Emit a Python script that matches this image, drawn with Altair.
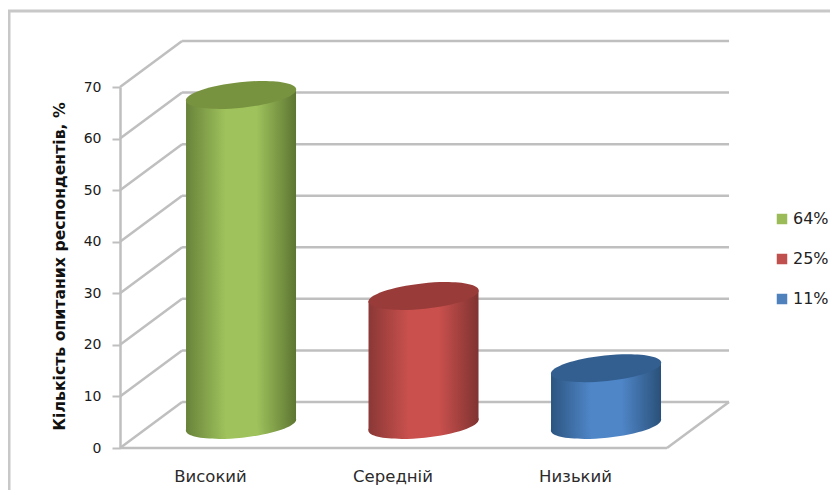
import altair as alt
import pandas as pd

categories = ["Високий", "Середній", "Низький"]
values = [64, 25, 11]
legend_labels = ["64%", "25%", "11%"]
edge_left = ["#68833a", "#8a3836", "#2c5580"]
centre = ["#9fc25c", "#c9504d", "#4f86c8"]
edge_right = ["#5d7632", "#7f3331", "#2a5079"]
top_colors = ["#78933f", "#983b39", "#335f90"]
legend_colors = ["#9bbb59", "#c0504d", "#4f81bd"]
grid_values = [0, 10, 20, 30, 40, 50, 60, 70]

GRAY = "#bfbfbf"
W, H = 822, 482
DX, DY = 0.34, 8.92       # depth of the 3D box in axis units
HALF = 0.3014             # half cylinder width in x units
TILT = 1.0                # vertical tilt of the cylinder ends, axis units
AX_L, AX_R = -0.493, 2.504
ELLIPSE = "M-1,0A1,0.23,0,1,1,1,0A1,0.23,0,1,1,-1,0Z"

xs = alt.Scale(domain=[0, 2], range=[202, 567])
ys = alt.Scale(domain=[0, 70], range=[440, 79])

x_axis = alt.Axis(
    values=[0, 1, 2], title=None, grid=False, domain=False, ticks=False, labelFlush=False,
    labelExpr="['" + "','".join(categories) + "'][datum.value]",
    labelFont="DejaVu Sans", labelFontSize=16.5, labelColor="#2b2b2b",
    labelPadding=0, offset=-22)
y_axis = alt.Axis(
    values=grid_values, title="Кількість опитаних респондентів, %", grid=False,
    domainColor=GRAY, domainWidth=2.5, tickColor=GRAY, tickWidth=2, tickSize=8,
    labelFont="DejaVu Sans", labelFontSize=14, labelColor="#1a1a1a", labelPadding=11,
    titleFont="DejaVu Sans", titleFontSize=15.7, titleFontWeight="bold", titleColor="#111111",
    titleAnchor="middle", titleY=258, titleX=-53, offset=-112)


def X(f="x"):
    return alt.X(f"{f}:Q", scale=xs, axis=x_axis)


def Y(f="y"):
    return alt.Y(f"{f}:Q", scale=ys, axis=y_axis)


# back wall lines and side wall diagonals
back = pd.DataFrame({"x": AX_L + DX, "x2": AX_R + DX, "y": [v + DY for v in grid_values]})
back_rules = alt.Chart(back).mark_rule(color=GRAY, strokeWidth=2.5).encode(x=X(), x2="x2:Q", y=Y())

diag = pd.DataFrame({"x": AX_L, "x2": AX_L + DX, "y": grid_values, "y2": [v + DY for v in grid_values]})
diag_rules = alt.Chart(diag).mark_rule(color=GRAY, strokeWidth=2.5).encode(x=X(), x2="x2:Q", y=Y(), y2="y2:Q")

floor = pd.DataFrame({"x": [AX_L], "x2": [AX_R], "y": [0]})
floor_rule = alt.Chart(floor).mark_rule(color=GRAY, strokeWidth=2.5).encode(x=X(), x2="x2:Q", y=Y())
floor_side = pd.DataFrame({"x": [AX_R], "x2": [AX_R + DX], "y": [0], "y2": [DY]})
floor_side_rule = alt.Chart(floor_side).mark_rule(color=GRAY, strokeWidth=2.5).encode(x=X(), x2="x2:Q", y=Y(), y2="y2:Q")

# chart frame (top and left edges)
frame_l = alt.Chart().mark_rule(color="#c8c8c8", strokeWidth=3).encode(
    x=alt.value(1), y=alt.value(3), y2=alt.value(H))
frame_t = alt.Chart().mark_rule(color="#c8c8c8", strokeWidth=3).encode(
    x=alt.value(0), x2=alt.value(W), y=alt.value(3))

layers = [back_rules, diag_rules, floor_rule, floor_side_rule, frame_l, frame_t]

# cylinders
for i, v in enumerate(values):
    grad = alt.Gradient(
        gradient="linear", x1=0, x2=1, y1=0, y2=0,
        stops=[
            alt.GradientStop(offset=0, color=edge_left[i]),
            alt.GradientStop(offset=0.36, color=centre[i]),
            alt.GradientStop(offset=0.64, color=centre[i]),
            alt.GradientStop(offset=1, color=edge_right[i]),
        ],
    )
    cx = i + DX / 2
    row = pd.DataFrame({"x": [cx], "top": [v + DY / 2], "bot": [DY / 2]})
    body = pd.DataFrame({
        "x": [cx - HALF, cx + HALF],
        "top": [v + DY / 2 - TILT, v + DY / 2 + TILT],
        "bot": [DY / 2 - TILT, DY / 2 + TILT],
    })
    base = alt.Chart(row)
    layers.append(base.mark_point(shape=ELLIPSE, size=12300, filled=True, opacity=1, angle=354, fill=grad)
                  .encode(x=X(), y=Y("bot")))
    layers.append(alt.Chart(body).mark_area(fill=grad, opacity=1).encode(x=X(), y=Y("top"), y2="bot:Q"))
    layers.append(base.mark_point(shape=ELLIPSE, size=12300, filled=True, opacity=1, angle=354,
                                  fill=top_colors[i])
                  .encode(x=X(), y=Y("top")))

# legend
leg = pd.DataFrame({"label": legend_labels, "x": [0, 1, 2], "y": values})
legend_layer = alt.Chart(leg).mark_point(filled=True, opacity=0).encode(
    x=X(), y=Y(),
    color=alt.Color("label:N", sort=legend_labels,
                    scale=alt.Scale(domain=legend_labels, range=legend_colors),
                    legend=alt.Legend(orient="none", legendX=766, legendY=203, title=None,
                                      symbolType="square", symbolSize=110, symbolOpacity=1,
                                      symbolStrokeWidth=0, labelFont="DejaVu Sans",
                                      labelFontSize=16, labelColor="#222222",
                                      rowPadding=24, labelOffset=3)),
)
layers.append(legend_layer)

chart = alt.layer(*layers).properties(
    width=W, height=H, padding=0, autosize=alt.AutoSizeParams(type="none"),
).configure_view(stroke=None)

chart.save("out.html", embed_options={"renderer": "svg", "actions": False})
